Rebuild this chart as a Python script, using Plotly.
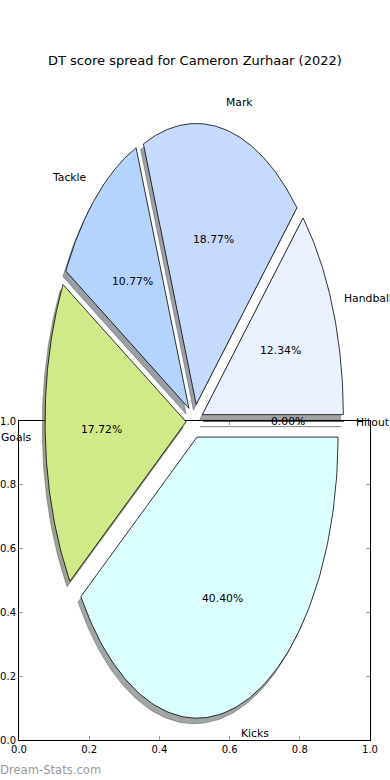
import numpy as np
import plotly.graph_objects as go

# ---------------- data ----------------
labels = ["Handball", "Mark", "Tackle", "Goals", "Kicks", "Hitout"]
values = [12.34, 18.77, 10.77, 17.72, 40.40, 0.00]
colors = ["#eaf0ff", "#c6d9ff", "#b4d4ff", "#d0ea8a", "#dbffff", "#ffe4c4"]
title_text = "DT score spread for Cameron Zurhaar (2022)"
tick_vals = [0.0, 0.2, 0.4, 0.6, 0.8, 1.0]
tick_text = ["0.0", "0.2", "0.4", "0.6", "0.8", "1.0"]
watermark = "Dream-Stats.com"

# ---------------- style / geometry ----------------
W, H = 390, 780
EXPLODE = 0.06
LABEL_DIST = 1.1
PCT_DIST = 0.6
SHADOW_DX, SHADOW_DY = -0.02, -0.02
CX, CY = 194.5, 421.0      # pie centre in pixels
RX, RY = 141.0, 281.0      # pie radius in pixels (stretched axes)
FONT = "DejaVu Sans"

fig = go.Figure()

total = float(sum(values))
fracs = [v / total for v in values]
starts = np.concatenate([[0.0], np.cumsum(fracs)[:-1]]) * 360.0
ends = np.cumsum(fracs) * 360.0


def wedge(t1, t2, ox, oy):
    th = np.radians(np.linspace(t1, t2, 120))
    xs = np.concatenate([[ox], ox + np.cos(th), [ox]])
    ys = np.concatenate([[oy], oy + np.sin(th), [oy]])
    return xs, ys


def rgb(hexc):
    hexc = hexc.lstrip("#")
    return [int(hexc[i:i + 2], 16) for i in (0, 2, 4)]


# shadows first
for lab, t1, t2, col in zip(labels, starts, ends, colors):
    mid = np.radians((t1 + t2) / 2)
    ox, oy = EXPLODE * np.cos(mid), EXPLODE * np.sin(mid)
    xs, ys = wedge(t1, t2, ox + SHADOW_DX, oy + SHADOW_DY)
    r, g, b = [int(0.3 * c) for c in rgb(col)]
    sc = f"rgba({r},{g},{b},0.5)"
    fig.add_trace(go.Scatter(x=xs, y=ys, mode="lines", fill="toself",
                             fillcolor=sc, line=dict(color=sc, width=0.8),
                             xaxis="x2", yaxis="y2", hoverinfo="skip",
                             showlegend=False))

annotations = []
for lab, v, f, t1, t2, col in zip(labels, values, fracs, starts, ends, colors):
    mid = np.radians((t1 + t2) / 2)
    ox, oy = EXPLODE * np.cos(mid), EXPLODE * np.sin(mid)
    xs, ys = wedge(t1, t2, ox, oy)
    fig.add_trace(go.Scatter(x=xs, y=ys, mode="lines", fill="toself",
                             fillcolor=col, line=dict(color="black", width=0.8),
                             xaxis="x2", yaxis="y2", hoverinfo="skip",
                             showlegend=False))
    lx = ox + LABEL_DIST * np.cos(mid)
    ly = oy + LABEL_DIST * np.sin(mid)
    right_side = np.cos(mid) > 0
    annotations.append(dict(x=lx, y=ly, xref="x2", yref="y2", text=lab,
                            showarrow=False, borderpad=0, borderwidth=0,
                            xanchor="left" if right_side else "right",
                            xshift=-2 if right_side else 1,
                            yanchor="middle", yshift=-1,
                            font=dict(family=FONT, size=10.8, color="black")))
    px_ = ox + PCT_DIST * np.cos(mid)
    py_ = oy + PCT_DIST * np.sin(mid)
    annotations.append(dict(x=px_, y=py_, xref="x2", yref="y2",
                            text=f"{f * 100:.2f}%", showarrow=False,
                            borderpad=0, borderwidth=0,
                            xanchor="center", yanchor="middle",
                            font=dict(family=FONT, size=10.8, color="black")))

annotations.append(dict(x=195 / W, y=1 - 61 / H, xref="paper", yref="paper",
                        text=title_text, showarrow=False, xanchor="center",
                        yanchor="middle", borderpad=0, borderwidth=0,
                        font=dict(family=FONT, size=13, color="black")))
annotations.append(dict(x=0, y=1 - 770 / H, xref="paper", yref="paper",
                        text=watermark, showarrow=False, xanchor="left",
                        yanchor="middle", borderpad=0, borderwidth=0,
                        font=dict(family=FONT, size=11.6, color="#999999")))

# dummy trace to keep the 0-1 axes alive
fig.add_trace(go.Scatter(x=[None], y=[None], xaxis="x", yaxis="y",
                         showlegend=False, hoverinfo="skip"))

axis_common = dict(range=[0, 1], tickvals=tick_vals, ticktext=tick_text,
                   showline=True, linecolor="black", linewidth=1,
                   mirror="ticks", ticks="inside", ticklen=4, tickwidth=1,
                   tickcolor="#999999", showgrid=False, zeroline=False,
                   automargin=False,
                   tickfont=dict(family=FONT, size=10, color="black"))

fig.update_layout(
    width=W, height=H,
    margin=dict(l=0, r=0, t=0, b=0, pad=0, autoexpand=False),
    paper_bgcolor="white", plot_bgcolor="rgba(0,0,0,0)",
    showlegend=False,
    xaxis=dict(domain=[19 / W, 370 / W], anchor="y", **axis_common),
    yaxis=dict(domain=[1 - 740 / H, 1 - 421 / H], anchor="x", **axis_common),
    xaxis2=dict(domain=[0, 1], anchor="y2", range=[-CX / RX, (W - CX) / RX],
                visible=False, fixedrange=True),
    yaxis2=dict(domain=[0, 1], anchor="x2", range=[-(H - CY) / RY, CY / RY],
                visible=False, fixedrange=True),
    annotations=annotations,
)

fig.write_html(
    "out.html",
    config={"displayModeBar": False},
    post_script="document.body.style.margin='0';"
                "document.body.style.overflow='hidden';",
)
